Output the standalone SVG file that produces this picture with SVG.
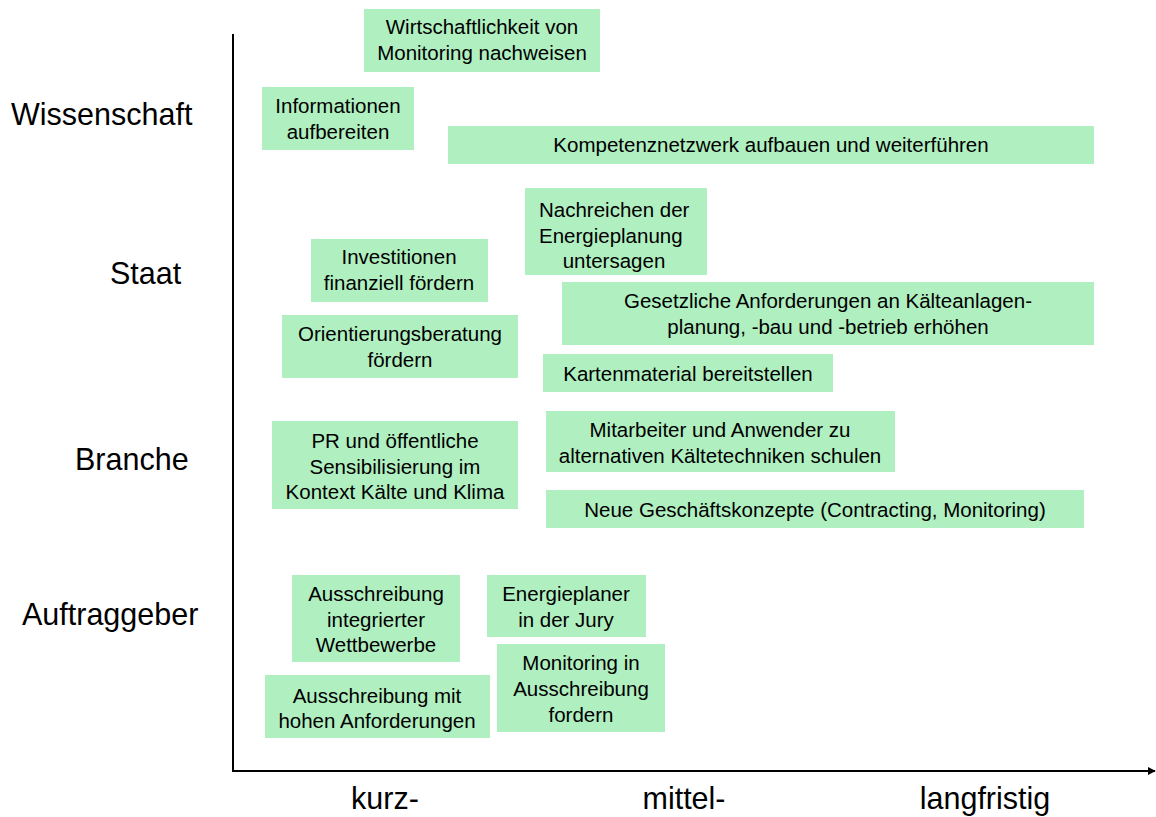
<svg xmlns="http://www.w3.org/2000/svg" width="1156" height="817" viewBox="0 0 1156 817">
<style>
.box{fill:#b0efc0;stroke:none}
.t{font-family:"Liberation Sans",Arial,sans-serif;font-size:20.5px;fill:#000;text-anchor:middle}
.tl{font-family:"Liberation Sans",Arial,sans-serif;font-size:20.5px;fill:#000;text-anchor:start}
.ax{font-family:"Liberation Sans",Arial,sans-serif;font-size:30.5px;fill:#000}
.axis{stroke:#000;stroke-width:2;fill:none}
</style>
<defs>
<marker id="arr" viewBox="0 0 10 10" refX="9" refY="5" markerWidth="4" markerHeight="4" orient="auto" markerUnits="strokeWidth">
<path d="M0,0 L10,5 L0,10 Z" fill="#000"/>
</marker>
</defs>
<rect width="1156" height="817" fill="#fff"/>
<g id="connectors">
<line class="axis" x1="233" y1="34" x2="233" y2="772"/>
<line class="axis" x1="232" y1="771" x2="1155" y2="771" marker-end="url(#arr)"/>
</g>
<g id="labels">
<text class="ax" x="11" y="125">Wissenschaft</text>
<text class="ax" x="110" y="284">Staat</text>
<text class="ax" x="75" y="470">Branche</text>
<text class="ax" x="22" y="625">Auftraggeber</text>
<text class="ax" x="385" y="809" text-anchor="middle">kurz-</text>
<text class="ax" x="684" y="809" text-anchor="middle">mittel-</text>
<text class="ax" x="985" y="809" text-anchor="middle">langfristig</text>
</g>
<g id="n1"><rect class="box" x="364" y="9" width="236" height="63"/>
<text class="t" x="482" y="34">Wirtschaftlichkeit von</text><text class="t" x="482" y="60">Monitoring nachweisen</text></g>
<g id="n2"><rect class="box" x="262" y="87" width="152" height="63"/>
<text class="t" x="338" y="113">Informationen</text><text class="t" x="338" y="139">aufbereiten</text></g>
<g id="n3"><rect class="box" x="448" y="126" width="646" height="38"/>
<text class="t" x="771" y="152">Kompetenznetzwerk aufbauen und weiterführen</text></g>
<g id="n4"><rect class="box" x="525" y="188" width="182" height="87"/>
<text class="tl" x="539" y="217">Nachreichen der</text><text class="tl" x="539" y="243">Energieplanung</text><text class="t" x="614" y="268">untersagen</text></g>
<g id="n5"><rect class="box" x="311" y="239" width="177" height="63"/>
<text class="t" x="399" y="264">Investitionen</text><text class="t" x="399" y="290">finanziell fördern</text></g>
<g id="n6"><rect class="box" x="562" y="282" width="532" height="63"/>
<text class="t" x="828" y="308">Gesetzliche Anforderungen an Kälteanlagen-</text><text class="t" x="828" y="334">planung, -bau und -betrieb erhöhen</text></g>
<g id="n7"><rect class="box" x="282" y="315" width="236" height="63"/>
<text class="t" x="400" y="341">Orientierungsberatung</text><text class="t" x="400" y="367">fördern</text></g>
<g id="n8"><rect class="box" x="543" y="354" width="290" height="38"/>
<text class="t" x="688" y="381">Kartenmaterial bereitstellen</text></g>
<g id="n9"><rect class="box" x="272" y="421" width="246" height="88"/>
<text class="t" x="395" y="448">PR und öffentliche</text><text class="t" x="395" y="474">Sensibilisierung im</text><text class="t" x="395" y="499">Kontext Kälte und Klima</text></g>
<g id="n10"><rect class="box" x="546" y="411" width="349" height="61"/>
<text class="t" x="720" y="437">Mitarbeiter und Anwender zu</text><text class="t" x="720" y="463">alternativen Kältetechniken schulen</text></g>
<g id="n11"><rect class="box" x="546" y="490" width="538" height="38"/>
<text class="t" x="815" y="517">Neue Geschäftskonzepte (Contracting, Monitoring)</text></g>
<g id="n12"><rect class="box" x="292" y="575" width="168" height="87"/>
<text class="t" x="376" y="601">Ausschreibung</text><text class="t" x="376" y="627">integrierter</text><text class="t" x="376" y="652">Wettbewerbe</text></g>
<g id="n13"><rect class="box" x="487" y="575" width="159" height="62"/>
<text class="t" x="566" y="601">Energieplaner</text><text class="t" x="566" y="627">in der Jury</text></g>
<g id="n14"><rect class="box" x="497" y="644" width="168" height="88"/>
<text class="t" x="581" y="670">Monitoring in</text><text class="t" x="581" y="696">Ausschreibung</text><text class="t" x="581" y="722">fordern</text></g>
<g id="n15"><rect class="box" x="265" y="675" width="225" height="63"/>
<text class="t" x="377" y="703">Ausschreibung mit</text><text class="t" x="377" y="728">hohen Anforderungen</text></g>
</svg>
